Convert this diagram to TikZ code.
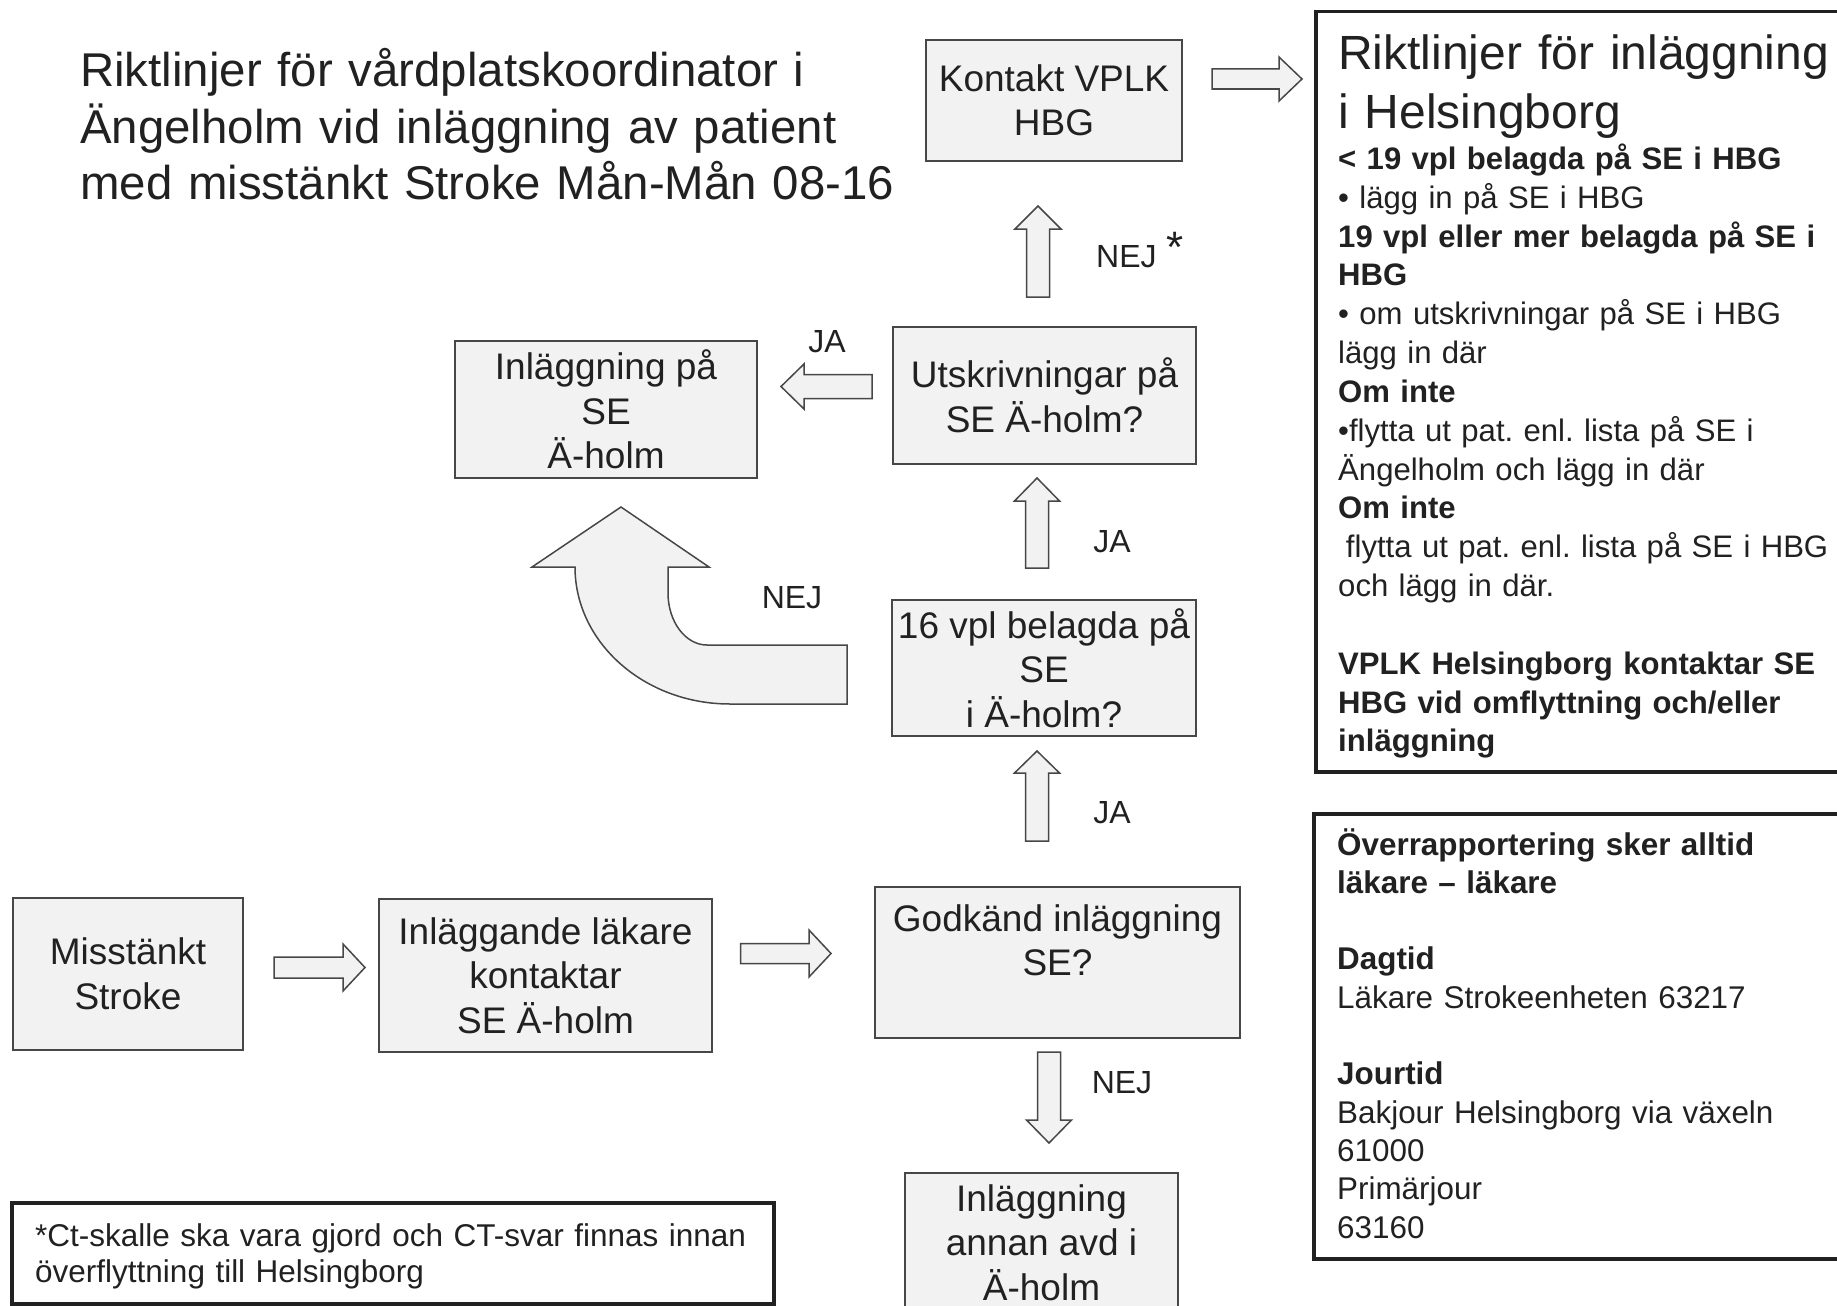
\documentclass[tikz,border=0pt]{standalone}
\usepackage{fontspec}
\setmainfont{Liberation Sans}
\frenchspacing
\definecolor{boxfill}{gray}{0.95}
\definecolor{edge}{gray}{0.28}
\definecolor{ink}{gray}{0.13}
\begin{document}
\begin{tikzpicture}[x=1pt,y=-1pt,
  box/.style={draw=edge, fill=boxfill, line width=1.6pt, inner sep=0pt, align=center, text=ink, font=\fontsize{37}{44.5}\selectfont},
  blk/.style={draw=edge, fill=boxfill, line width=1.5pt, line join=miter},
  lbl/.style={inner sep=0pt, text=ink, font=\fontsize{32}{38}\selectfont},
  frame/.style={draw=ink, line width=3.5pt, inner sep=0pt, anchor=north west},
  para/.style={anchor=base west, inner sep=0pt, align=left, text=ink}
]
\fill[white] (0,0) rectangle (1837,1306);
\path[use as bounding box] (0,0) rectangle (1837,1306);

% title
\node[para, text width=1000pt, font=\fontsize{47.4}{57}\selectfont] (title) at (80,86)
  {Riktlinjer för vårdplatskoordinator i\\Ängelholm vid inläggning av patient\\med misstänkt Stroke Mån-Mån 08-16};

% flow boxes
\node[box, minimum width=256pt, minimum height=121pt] (kontakt) at (1054,100.5) {Kontakt VPLK\\HBG};
\node[box, minimum width=303pt, minimum height=137pt] (utsk) at (1044.5,395.5) {Utskrivningar på\\SE Ä-holm?};
\node[box, minimum width=302pt, minimum height=137pt] (inlse) at (606,409.5) {Inläggning på\\SE\\Ä-holm};
\node[box, minimum width=304pt, minimum height=136pt] (vpl) at (1044,668) {16 vpl belagda på\\SE\\i Ä-holm?};
\node[box, minimum width=365pt, minimum height=151pt] (godk) at (1057.5,962.5) {Godkänd inläggning\\SE?\\\mbox{}};
\node[box, minimum width=273pt, minimum height=139pt] (annan) at (1041.5,1242.5) {Inläggning\\annan avd i\\Ä-holm};
\node[box, minimum width=333pt, minimum height=153pt] (inllak) at (545.5,975.5) {Inläggande läkare\\kontaktar\\SE Ä-holm};
\node[box, minimum width=230pt, minimum height=152pt] (miss) at (128,974) {Misstänkt\\Stroke};

% frames
\node[frame, minimum width=540pt, minimum height=760pt] (rb1) at (1314,10) {};
\node[frame, minimum width=540pt, minimum height=445pt] (rb2) at (1312,812) {};
\node[frame, minimum width=762pt, minimum height=101pt] (foot) at (10,1201) {};

% right box 1 text
\node[para, text width=515pt, font=\fontsize{48}{58.6}\selectfont] (rtitle) at (1338,70)
  {Riktlinjer för inläggning\\i Helsingborg};
\node[para, text width=515pt, font=\fontsize{31.1}{38.83}\selectfont] (rbody) at (1338,169.5)
  {\textbf{< 19 vpl belagda på SE i HBG}\\
   • lägg in på SE i HBG\\
   \textbf{19 vpl eller mer belagda på SE i}\\
   \textbf{HBG}\\
   • om utskrivningar på SE i HBG\\
   lägg in där\\
   \textbf{Om inte}\\
   •flytta ut pat. enl. lista på SE i\\
   Ängelholm och lägg in där\\
   \textbf{Om inte}\\
   \hspace*{0.25em}flytta ut pat. enl. lista på SE i HBG\\
   och lägg in där.\\[38.83pt]
   \textbf{VPLK Helsingborg kontaktar SE}\\
   \textbf{HBG vid omflyttning och/eller}\\
   \textbf{inläggning}};

% right box 2 text
\node[para, text width=500pt, font=\fontsize{31.4}{38.3}\selectfont] (rbody2) at (1337,855)
  {\textbf{Överrapportering sker alltid}\\
   \textbf{läkare – läkare}\\[38.3pt]
   \textbf{Dagtid}\\
   Läkare Strokeenheten 63217\\[38.3pt]
   \textbf{Jourtid}\\
   Bakjour Helsingborg via växeln\\
   61000\\
   Primärjour\\
   63160};

% footnote text
\node[para, text width=740pt, font=\fontsize{31.5}{36.3}\selectfont] (foottext) at (35,1246.5)
  {*Ct-skalle ska vara gjord och CT-svar finnas innan\\överflyttning till Helsingborg};

% block arrows
% Misstänkt -> Inläggande
\draw[blk] (274,957) -- (343,957) -- (343,944) -- (365,967.5) -- (343,991) -- (343,978) -- (274,978) -- cycle;
% Inläggande -> Godkänd
\draw[blk] (740.5,943.5) -- (809,943.5) -- (809,930) -- (831,953.5) -- (809,977) -- (809,963.5) -- (740.5,963.5) -- cycle;
% Kontakt -> right box
\draw[blk] (1212,69) -- (1279,69) -- (1279,57) -- (1302,79) -- (1279,101) -- (1279,89) -- (1212,89) -- cycle;
% NEJ* up
\draw[blk] (1026.5,297) -- (1026.5,229) -- (1015,229) -- (1038,206) -- (1061,229) -- (1049.5,229) -- (1049.5,297) -- cycle;
% JA up (upper)
\draw[blk] (1025.5,568) -- (1025.5,501) -- (1014.5,501) -- (1037,478) -- (1059.5,501) -- (1048.5,501) -- (1048.5,568) -- cycle;
% JA up (lower)
\draw[blk] (1025.5,841) -- (1025.5,773) -- (1014.5,773) -- (1037,751) -- (1059.5,773) -- (1048.5,773) -- (1048.5,841) -- cycle;
% NEJ down
\draw[blk] (1037.5,1052) -- (1037.5,1120) -- (1026.5,1120) -- (1049,1143) -- (1071.5,1120) -- (1060.5,1120) -- (1060.5,1052) -- cycle;
% JA left
\draw[blk] (872,374.5) -- (804,374.5) -- (804,364) -- (781,386.5) -- (804,409) -- (804,398.5) -- (872,398.5) -- cycle;
% curved NEJ arrow
\draw[blk] (847,645) -- (707,645) .. controls (685.5,645) and (668,621.7) .. (668,593)
  -- (668,567) -- (709,567) -- (621,507) -- (532,567) -- (575,567)
  .. controls (575,642.6) and (644.4,704) .. (730,704) -- (847,704) -- cycle;

% labels
\node[lbl] (ja1) at (827,342) {JA};
\node[lbl] (nej1) at (792,598) {NEJ};
\node[lbl, anchor=west] (nej2) at (1096,250) {NEJ\hspace{10pt}\raisebox{5pt}{\fontsize{44}{44}\selectfont *}};
\node[lbl] (ja2) at (1112,542) {JA};
\node[lbl] (ja3) at (1112,813) {JA};
\node[lbl] (nej3) at (1122,1083) {NEJ};
\end{tikzpicture}
\end{document}
